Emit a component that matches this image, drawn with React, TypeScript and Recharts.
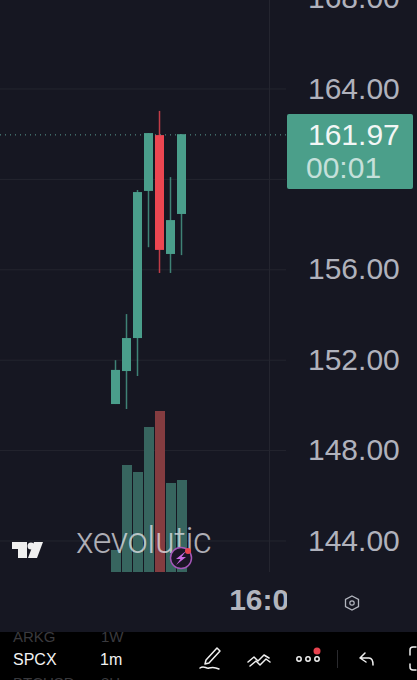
import React from "react";
import { ComposedChart, Bar, XAxis, YAxis, CartesianGrid, ReferenceLine } from "recharts";

const candleTimes = ["15:46","15:47","15:48","15:49","15:50","15:51","15:52"];
const leadingSlots = ["15:36","15:37","15:38","15:39","15:40","15:41","15:42","15:43","15:44","15:45"];
const trailingSlots = ["15:53","15:54","15:55","15:56","15:57","15:58","15:59","16:00","16:01"];
const opens = [150.06, 151.52, 152.98, 159.49, 161.96, 156.70, 158.47];
const closes = [151.57, 152.98, 159.44, 162.05, 156.88, 158.20, 162.00];
const highs = [152.00, 154.04, 159.53, 162.05, 163.03, 160.10, 162.00];
const lows = [150.06, 149.84, 151.30, 157.00, 155.86, 155.86, 156.65];
const volumes = [22, 107, 100, 145, 161, 89, 92];
const priceTicks = [144, 148, 152, 156, 160, 164, 168];
const lastPrice = 161.97;
const timeTicks = ["16:00"];

const rows = [
  ...leadingSlots.map((t) => ({ t })),
  ...candleTimes.map((t, i) => ({
    t,
    range: [lows[i], highs[i]],
    open: opens[i],
    close: closes[i],
    low: lows[i],
    high: highs[i],
    volume: volumes[i],
  })),
  ...trailingSlots.map((t) => ({ t })),
];

const UP = "#4a9e8b";
const DOWN = "#ec4651";
const VOL_UP = "#37655f";
const VOL_DOWN = "#843c40";
const BG = "#161722";
const GRID = "#24252f";

function Candle(props: any) {
  const { x, y, width, height, payload } = props;
  if (!payload || payload.open === undefined) return null;
  const perUnit = height / (payload.high - payload.low);
  const top = y + (payload.high - Math.max(payload.open, payload.close)) * perUnit;
  const bottom = y + (payload.high - Math.min(payload.open, payload.close)) * perUnit;
  const color = payload.close >= payload.open ? UP : DOWN;
  const cx = x + width / 2;
  return (
    <g>
      <rect x={cx - 0.75} y={y} width={1.5} height={height} fill={color} fillOpacity={0.8} />
      <rect x={cx - 4.5} y={top} width={9} height={bottom - top} fill={color} />
    </g>
  );
}

function VolumeBar(props: any) {
  const { x, y, width, height, payload } = props;
  if (!payload || payload.volume === undefined) return null;
  return (
    <rect x={x} y={y} width={width} height={height}
      fill={payload.close >= payload.open ? VOL_UP : VOL_DOWN} />
  );
}

function TimeTick(props: any) {
  const { x, y, payload } = props;
  return (
    <g clipPath="url(#axisClip)">
      <text x={x - 2} y={y + 30} textAnchor="middle" fill="#b2b5be" fontSize={30} fontWeight={700}
        fontFamily="'Liberation Sans', Arial, sans-serif">{payload.value}</text>
    </g>
  );
}

const fontUI = "'Liberation Sans', Arial, sans-serif";

function abs(left: number, top: number, extra: React.CSSProperties = {}): React.CSSProperties {
  return { position: "absolute", left, top, whiteSpace: "nowrap", fontFamily: fontUI, ...extra };
}

export default function App() {
  return (
    <div style={{ position: "fixed", left: 0, top: 0, width: 417, height: 680, overflow: "hidden", background: BG }}>
      <div style={{ position: "absolute", left: -0.5, top: -20 }}>
        <ComposedChart width={417} height={700} data={rows} barCategoryGap={0}
          margin={{ top: 0, right: 0, bottom: 0, left: 0 }}>
          <defs>
            <clipPath id="axisClip"><rect x={0} y={560} width={287} height={100} /></clipPath>
          </defs>
          <CartesianGrid stroke={GRID} strokeWidth={1} xAxisId="time" yAxisId="price"
            horizontalValues={priceTicks} verticalValues={timeTicks} />
          <XAxis xAxisId="time" dataKey="t" ticks={timeTicks} interval={0} height={108}
            axisLine={false} tickLine={false} tick={<TimeTick />} />
          <XAxis xAxisId="vol" dataKey="t" hide />
          <YAxis yAxisId="price" orientation="right" width={131} domain={[142.628, 168.823]}
            ticks={priceTicks} allowDataOverflow axisLine={false} tickLine={false}
            tickFormatter={(v: number) => v.toFixed(2)}
            tick={{ fill: "#b0b2bc", fontSize: 30, fontFamily: fontUI, dx: 14, dy: -1 }} />
          <YAxis yAxisId="volume" hide domain={[0, 592]} />
          <Bar xAxisId="vol" yAxisId="volume" dataKey="volume" barSize={10}
            shape={<VolumeBar />} isAnimationActive={false} />
          <Bar xAxisId="time" yAxisId="price" dataKey="range" barSize={9}
            shape={<Candle />} isAnimationActive={false} />
          <ReferenceLine xAxisId="time" yAxisId="price" y={lastPrice} stroke="#5c9f94" strokeWidth={1} strokeDasharray="1 4" />
        </ComposedChart>
      </div>

      {/* last price tag */}
      <div style={{ position: "absolute", left: 287, top: 114, width: 126, height: 74.5, background: "#4b9f8a", borderRadius: 2 }} />
      <div style={abs(308, 119, { fontSize: 30, color: "#f2f6f5", lineHeight: "32px" })}>{lastPrice.toFixed(2)}</div>
      <div style={abs(306, 152, { fontSize: 30, color: "#c5e0da", lineHeight: "32px" })}>00:01</div>

      {/* watermark */}
      <div style={{ position: "absolute", left: 76, top: 519, width: 135, height: 44, overflow: "hidden" }}>
        <div style={{ fontFamily: "Roboto, sans-serif", fontWeight: 300, fontSize: 36, letterSpacing: -0.4, lineHeight: "44px", color: "rgba(235,235,240,0.72)", whiteSpace: "nowrap" }}>xevolutic</div>
      </div>

      {/* logo and icons */}
      <svg width={417} height={680} style={{ position: "absolute", left: 0, top: 0 }}>
        <g fill="#f0f0f0">
          <path d="M12 542h15v16h-9v-9h-6z" />
          <circle cx="31" cy="546" r="3.500" />
          <path d="M34 542h9l-6 16h-9z" />
        </g>
        <circle cx="181" cy="558" r="10.5" fill="#1b1526" stroke="#a457b8" strokeWidth={1.5} />
        <path d="M186 551l-10 8h4.500l-4.500 6 10-8h-4.500z" fill="#c96ae2" />
        <circle cx="188" cy="551" r="3" fill="#e8434f" />
        <path d="M352 596l6.500 3.500v7l-6.500 3.500-6.500-3.500v-7z" fill="none" stroke="#b2b5be" strokeWidth={1.3} />
        <circle cx="352" cy="603" r="2.200" fill="none" stroke="#b2b5be" strokeWidth={1.2} />
      </svg>

      {/* bottom toolbar */}
      <div style={{ position: "absolute", left: 0, top: 632, width: 417, height: 48, background: "#000", overflow: "hidden" }}>
        <div style={abs(13, -4, { fontSize: 15, color: "#3a3a3e" })}>ARKG</div>
        <div style={abs(101, -4, { fontSize: 15, color: "#3a3a3e" })}>1W</div>
        <div style={abs(13, 19, { fontSize: 16, color: "#f2f2f2" })}>SPCX</div>
        <div style={abs(100, 19, { fontSize: 16, color: "#f2f2f2" })}>1m</div>
        <div style={abs(13, 42, { fontSize: 15, color: "#3a3a3e" })}>BTCUSD</div>
        <div style={abs(101, 42, { fontSize: 15, color: "#3a3a3e" })}>8H</div>
      </div>
      <svg width={417} height={680} style={{ position: "absolute", left: 0, top: 0 }}>
        <g fill="none" stroke="#f0f0f0" strokeWidth={1.5} strokeLinecap="round" strokeLinejoin="round">
          <path d="M217 648l3 3-11 12-4 1 1-4z" />
          <path d="M200 668c4-3 6 1 9 0 3-1 6-1 10 1" />
          <path d="M248 662l6-5 4 4 6-6 5 3" />
          <path d="M250 666l6-5 4 4 6-6 4 3" />
          <circle cx="299" cy="659" r="2.200" />
          <circle cx="308" cy="659" r="2.200" />
          <circle cx="317" cy="659" r="2.200" />
          <path d="M360 658l5-5M360 658l6 4M360 658h9c3 0 4 3 4 7" />
          <path d="M416 647h-3c-2 0-3 1-3 3v5M410 664v3c0 2 1 3 3 3h3" />
        </g>
        <circle cx="317" cy="651" r="3.500" fill="#e8434f" />
        <rect x="337" y="650" width="1" height="18" fill="#2a2a2e" />
      </svg>
    </div>
  );
}
